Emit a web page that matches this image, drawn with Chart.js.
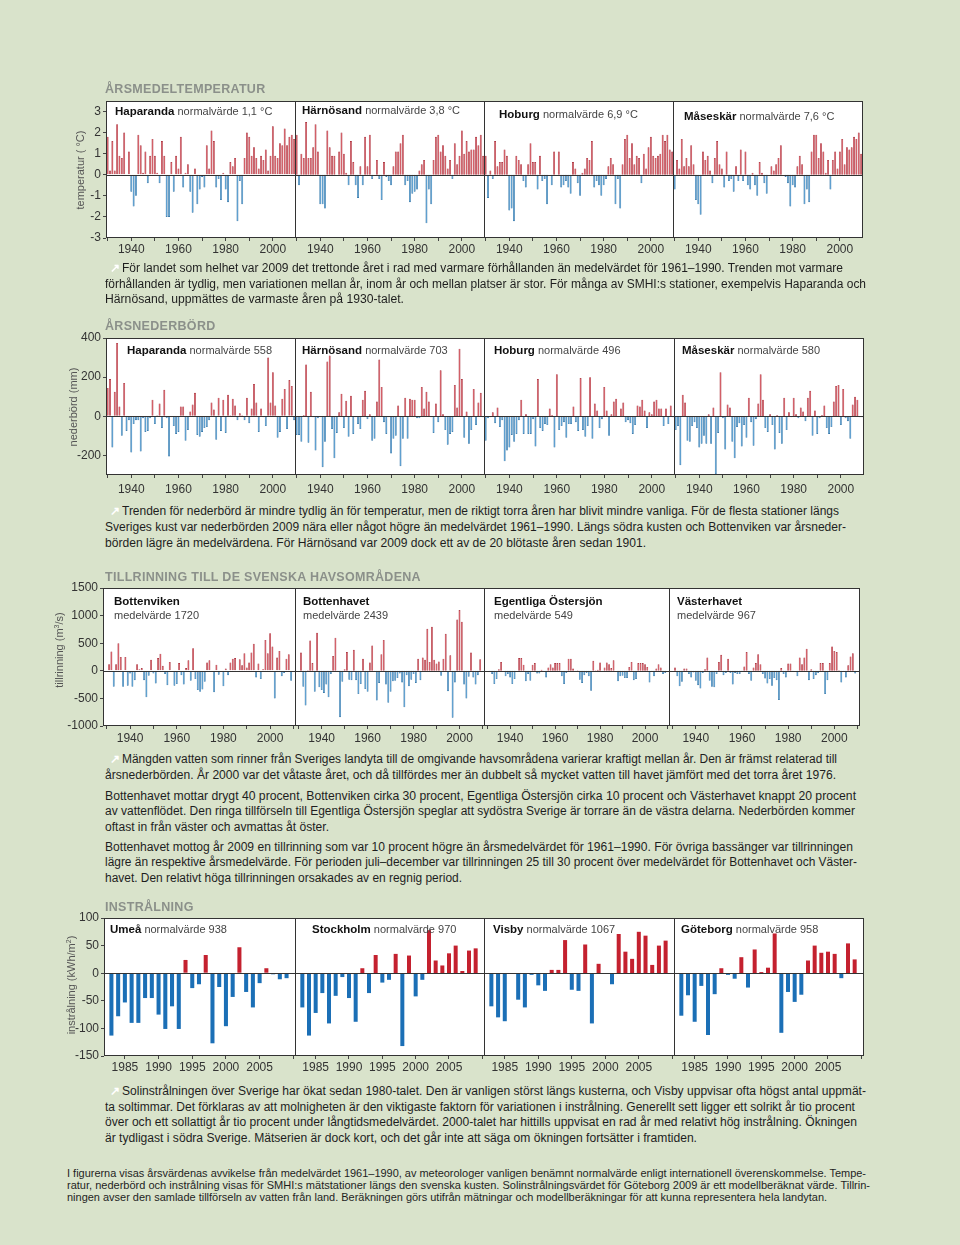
<!DOCTYPE html>
<html>
<head>
<meta charset="utf-8">
<script src="https://cdn.jsdelivr.net/npm/chart.js@4.4.1/dist/chart.umd.min.js"></script>
<style>
body { margin: 0; background: #d9e3cb; }
#page { position: relative; width: 960px; height: 1245px; overflow: hidden; background: #d9e3cb;
        font-family: "Liberation Sans", Arial, sans-serif; }
canvas { position: absolute; }
.t { position: absolute; white-space: nowrap; line-height: 14px; }
.title { font-weight: bold; color: #8b908a; font-size: 12.5px; letter-spacing: 0.3px; }
.lab { font-size: 11px; color: #444; }
.lab b { color: #111; font-size: 11.5px; }
.ytitle { font-size: 11px; color: #555; transform: translate(-50%, -50%) rotate(-90deg); }
.p { font-family: "Liberation Sans Narrow", "Liberation Sans", Arial, sans-serif; font-size: 12.5px; color: #1e1e1e; transform-origin: 0 50%; }
.foot { font-size: 10.5px; }
.arrow { color: #fff; font-weight: bold; font-size: 12px; }
</style>
</head>
<body>
<div id="page"></div>
<script>
// ---------- data ----------
const yearsClimate = Array.from({length: 80}, (_, i) => 1930 + i);   // 1930-2009
const yearsInflow  = Array.from({length: 79}, (_, i) => 1931 + i);   // 1931-2009
const yearsSun     = Array.from({length: 27}, (_, i) => 1983 + i);   // 1983-2009

const climateTickLabels = [1940, 1960, 1980, 2000];
const sunTickLabels = [1985, 1990, 1995, 2000, 2005];

// årsmedeltemperatur, avvikelse (°C)
const tempStations = ['Haparanda', 'Härnösand', 'Hoburg', 'Måseskär'];
const tempNormals = ['normalvärde 1,1 °C', 'normalvärde 3,8 °C', 'normalvärde 6,9 °C', 'normalvärde 7,6 °C'];
const tempHaparanda = [1.8,0.2,1.6,0.2,2.4,0.9,0.8,2.0,0.0,1.1, -0.8,-1.5,-1.0,1.9,1.4,0.1,1.1,-0.4,0.9,1.7,
  0.9,0.1,-0.4,1.6,0.9,-2.0,-2.0,0.6,-0.8,0.9, 0.3,1.8,-0.6,0.1,0.5,-0.8,-1.8,0.3,-1.4,-0.7,
  -0.1,-0.6,1.4,0.3,2.1,1.6,-0.6,-0.2,-1.2,0.1, -0.7,-1.3,0.6,0.4,0.8,-2.2,-0.3,-1.4,0.8,2.0,
  1.8,0.9,1.3,0.8,0.3,0.9,0.7,1.2,0.2,0.9, 2.3,0.9,0.8,1.5,1.4,2.2,1.4,1.8,1.9,1.7];
const tempHarnosand = [1.9,-0.5,1.0,0.8,2.5,0.8,0.8,1.3,2.4,1.1, -1.4,-1.4,-1.6,2.1,1.3,0.9,0.9,0.0,1.1,2.0,
  1.0,0.1,-0.5,1.6,0.6,-0.5,-1.1,0.4,-0.5,1.8, 0.4,1.9,-0.2,0.0,0.7,-0.2,-1.2,0.6,-0.1,-0.3,
  -0.5,0.4,1.1,1.1,1.5,1.9,-0.5,-0.3,-1.3,-0.9, -0.8,-0.7,0.2,0.5,0.7,-2.3,-0.7,-1.4,0.7,1.8,
  1.9,1.1,1.4,0.9,0.3,0.7,-0.2,1.5,0.5,0.9, 2.1,1.0,1.6,1.1,1.2,1.2,1.8,1.4,1.9,0.9];
const tempHoburg = [0.9,-1.1,0.2,-0.2,1.6,0.4,0.6,0.6,1.2,0.9, -1.7,-1.6,-2.2,0.9,0.7,0.5,-0.3,-0.6,0.5,1.5,
  0.6,0.6,-0.7,0.9,-0.3,-0.2,-1.4,0.0,-0.5,1.1, 0.0,1.1,-0.6,-0.5,-0.3,-0.6,-0.9,0.6,0.3,-0.4,
  -1.0,0.1,0.3,0.8,0.7,1.6,-0.6,-0.3,-0.5,-1.0, -0.5,-0.2,0.4,0.8,0.5,-1.4,-0.2,-1.6,0.5,1.7,
  1.9,0.8,1.5,0.5,0.9,0.8,-0.4,1.0,0.3,1.3, 1.8,0.9,0.8,0.9,1.0,1.9,1.6,1.9,1.2,1.1];
const tempMaseskar = [-0.7,0.7,0.3,1.7,0.4,0.8,0.4,1.4,0.5,-1.2, -1.4,-1.9,1.1,0.7,0.9,0.2,-0.4,0.8,1.6,0.5,
  0.3,-0.6,1.1,-0.3,-0.2,-0.8,0.4,-0.3,1.2,-0.3, 1.1,-0.5,-0.7,0.1,-0.5,-1.0,0.6,0.1,-0.4,-0.9,
  0.0,0.4,0.2,0.5,0.8,1.4,0.0,-0.1,-0.4,-1.5, -0.5,-0.6,0.4,0.9,0.5,-1.4,-0.7,-1.3,1.1,1.9,
  1.9,0.8,1.5,1.1,0.1,0.7,-0.7,0.7,1.1,0.3, 1.1,1.7,0.5,1.3,1.2,1.3,1.8,1.7,2.0,1.0];

// årsnederbörd, avvikelse (mm)
const precNormals = ['normalvärde 558', 'normalvärde 703', 'normalvärde 496', 'normalvärde 580'];
const precHaparanda = [145,190,-160,125,375,50,-100,170,-75,-20, -185,-40,-20,-20,-180,-10,-80,-75,-10,85,
  -40,5,65,-60,135,-10,-205,-5,-50,-90, -80,50,50,-125,-70,25,60,120,-95,-105,
  -80,-60,-55,-20,70,35,-120,95,-75,85, -85,110,5,90,55,-20,15,5,-20,95,
  -35,40,165,70,-80,40,-5,-50,300,70, 225,55,-110,-80,90,140,-65,185,155,-20];
const precHarnosand = [-95,-95,-130,5,265,-135,125,-5,-175,-10, -5,-260,-130,280,310,-65,-215,-85,20,115,
  -60,80,-105,105,-90,-5,-40,-65,85,130, -15,10,-125,-115,75,290,150,-30,-90,-5,
  -190,-115,-100,55,-255,-115,95,-115,90,85, 85,-10,-10,150,40,125,75,-5,-85,65,
  -30,235,10,-70,-145,-90,-80,160,45,345, 190,-110,25,-140,-70,140,-45,70,120,-5];
const precHoburg = [-125,-10,-5,20,-35,45,-55,-20,-230,-175, -160,-95,-130,-90,-20,85,-90,10,-90,-90,
  -15,-155,190,-60,-75,-40,-45,40,5,-160, 215,-70,-50,-30,-110,-40,-40,50,-30,-75,
  195,-70,-105,-50,200,-115,65,30,-60,-15, 150,30,-100,10,75,90,0,40,70,-30,
  -20,-35,-90,-45,55,50,85,30,-60,20, 10,75,85,40,40,-50,40,-40,55,-5];
const precMaseskar = [-70,-50,-250,110,70,-125,-130,-50,-30,-60, -160,-140,-100,-140,10,-140,45,-295,-85,225,
  -10,-170,60,45,-130,-215,-55,-35,-155,-45, -110,95,-30,-150,-15,65,215,85,-60,-80,
  10,-45,-170,5,-85,-140,95,-70,20,-5, 95,10,-10,45,25,-25,95,130,-100,30,
  -90,-10,5,55,-60,-90,-55,75,155,160, -45,140,-10,-25,-115,60,100,85,-5,-5];

// tillrinning, avvikelse (m3/s)
const basins = ['Bottenviken', 'Bottenhavet', 'Egentliga Östersjön', 'Västerhavet'];
const basinMeans = ['medelvärde 1720', 'medelvärde 2439', 'medelvärde 549', 'medelvärde 967'];
const flowBottenviken = [120,350,-290,120,500,250,-290,250,-270,-50, -290,-170,120,30,50,-170,-480,-90,200,-50,
  -230,230,310,90,-60,-260,160,-10,-270,-240, 140,-80,-250,50,190,-180,410,-150,-350,-380,
  -340,-200,150,190,-10,-390,110,-70,-10,-280, 40,-80,150,220,230,-20,210,100,320,60,
  150,330,490,-120,130,-150,30,560,320,680, 440,-500,240,360,-100,-40,220,300,-180];
const flowBottenhavet = [330,-290,-630,10,550,140,-380,690,-300,-350, -400,-250,-480,-60,270,600,-20,-840,-200,30,
  340,-160,-170,380,-170,-420,-240,220,-330,-380, 150,460,-20,-540,-220,300,560,-250,-580,-380,
  -190,-180,-130,-50,-210,-660,-80,-280,-160,-60, -220,220,-170,240,200,760,160,800,200,130,
  170,-90,220,670,-370,280,-850,-210,930,1100, 890,-250,-500,-110,330,-120,-250,-80,210];
const flowEgentliga = [-20,-60,-240,-150,30,160,0,-100,-60,-120, -240,-150,0,230,230,110,-190,-60,-180,110,
  140,-50,-50,20,-20,-120,60,120,60,140, 140,140,-100,-240,-40,220,220,40,-10,10,
  -160,-220,-80,-40,-100,-360,180,10,20,150, -10,60,150,120,50,190,0,-190,-100,-90,
  -130,-130,70,160,-170,-150,140,140,140,120, 70,-210,-20,-100,40,120,60,-60,-40];
const flowVasterhavet = [60,-100,-280,-200,40,40,-60,-120,-30,-180, -260,-320,-40,30,240,-180,-290,-300,-60,160,
  290,-80,-40,220,-40,-250,-40,-60,-60,-10, 80,340,-60,-180,60,140,300,120,-60,-140,
  -230,-150,-270,-130,-170,-530,50,-60,-120,130, 130,-20,0,-100,240,120,240,400,-170,30,
  -150,-80,-40,140,140,-420,-170,140,440,360, 340,10,-210,-10,-120,100,260,320,-50];

// instrålning, avvikelse (kWh/m2)
const sunStations = ['Umeå', 'Stockholm', 'Visby', 'Göteborg'];
const sunNormals = ['normalvärde 938', 'normalvärde 970', 'normalvärde 1067', 'normalvärde 958'];
const sunUmea = [-113,-78,-53,-90,-90,-45,-45,-75,-101,-60, -101,24,-27,-20,33,-127,-25,-96,-43,47, -34,-62,-18,9,-2,-11,-9];
const sunStockholm = [-62,-113,-72,-36,-91,-41,-7,-45,-88,9, -36,33,-17,-12,35,-132,32,-42,-12,78, 23,14,36,50,4,41,45];
const sunVisby = [-60,-80,-87,0,-48,-62,-3,-22,-32,6, 6,60,-30,-32,52,-91,17,0,-20,71, 39,26,75,68,15,50,59];
const sunGoteborg = [-77,-40,-88,-23,-112,-38,9,-3,-10,29, -26,43,2,10,72,-108,-34,-52,-39,23, 50,37,39,35,-9,54,25];

// ---------- layout ----------
const page = document.getElementById('page');
const FONT = '"Liberation Sans", Arial, sans-serif';
const TOPPAD = 12, XH = 26, YW = 50, SIDE = 8;

const rows = [
  { top: 101, bottom: 238, edges: [106, 295, 484, 673, 862], years: yearsClimate,
    series: [tempHaparanda, tempHarnosand, tempHoburg, tempMaseskar],
    xMin: 1929.3, xMax: 2009.8, xStep: 10, xLabels: climateTickLabels,
    yMin: -3, yMax: 3.5, yStep: 1, xPad: 1, red: '#cc3a45', blue: '#3a8cc8',
    redEdge: '#a01f2c', blueEdge: '#20679d', bar: 0.82, border: 0.6 },
  { top: 338, bottom: 475, edges: [106, 295, 484, 674, 863], years: yearsClimate,
    series: [precHaparanda, precHarnosand, precHoburg, precMaseskar],
    xMin: 1929.3, xMax: 2009.8, xStep: 10, xLabels: climateTickLabels,
    yMin: -300, yMax: 400, yStep: 200, xPad: 4, red: '#cc3a45', blue: '#3a8cc8',
    redEdge: '#a01f2c', blueEdge: '#20679d', bar: 0.82, border: 0.6 },
  { top: 588, bottom: 726, edges: [103, 295, 484, 669, 859], years: yearsInflow,
    series: [flowBottenviken, flowBottenhavet, flowEgentliga, flowVasterhavet],
    xMin: 1928.4, xMax: 2011.1, xStep: 10, xLabels: climateTickLabels,
    yMin: -1000, yMax: 1500, yStep: 500, xPad: 2, red: '#cc3a45', blue: '#3a8cc8',
    redEdge: '#a01f2c', blueEdge: '#20679d', bar: 0.82, border: 0.6 },
  { top: 918, bottom: 1056, edges: [104, 295, 484, 674, 863], years: yearsSun,
    series: [sunUmea, sunStockholm, sunVisby, sunGoteborg],
    xMin: 1981.9, xMax: 2010.4, xStep: 5, xLabels: sunTickLabels,
    yMin: -150, yMax: 100, yStep: 50, xPad: 1, red: '#c4212f', blue: '#1b6fb6',
    redEdge: '#c4212f', blueEdge: '#1b6fb6', bar: 0.6, border: 0 }
];

const boxPlugin = {
  id: 'box',
  beforeDraw(chart) {
    const a = chart.chartArea, g = chart.ctx;
    g.save(); g.fillStyle = '#fff'; g.fillRect(a.left, a.top, a.right - a.left, a.bottom - a.top); g.restore();
  },
  afterDatasetsDraw(chart) {
    const a = chart.chartArea, g = chart.ctx;
    const y0 = Math.round(chart.scales.y.getPixelForValue(0)) + 0.5;
    g.save();
    g.strokeStyle = '#333'; g.lineWidth = 1;
    g.beginPath(); g.moveTo(a.left, y0); g.lineTo(a.right, y0); g.stroke();
    g.strokeRect(Math.round(a.left) + 0.5, Math.round(a.top) + 0.5, Math.round(a.right - a.left) - 1, Math.round(a.bottom - a.top) - 1);
    g.restore();
  }
};

function makePanel(row, i) {
  const first = i === 0;
  const padL = first ? YW : SIDE;
  const w = row.edges[i + 1] - row.edges[i] + 1;
  const h = row.bottom - row.top;
  const cw = w + padL + SIDE, ch = h + TOPPAD + XH;
  const c = document.createElement('canvas');
  c.width = cw; c.height = ch;
  c.style.left = (row.edges[i] - padL) + 'px';
  c.style.top = (row.top - TOPPAD) + 'px';
  c.style.width = cw + 'px'; c.style.height = ch + 'px';
  page.appendChild(c);
  const vals = row.series[i];
  new Chart(c, {
    type: 'bar',
    data: {
      datasets: [{
        data: row.years.map((yr, k) => ({ x: yr, y: vals[k] })),
        backgroundColor: ctx => ctx.parsed.y >= 0 ? row.red : row.blue,
        borderColor: ctx => ctx.parsed.y >= 0 ? row.redEdge : row.blueEdge,
        borderWidth: row.border,
        barPercentage: row.bar,
        categoryPercentage: 1
      }]
    },
    options: {
      responsive: false,
      animation: false,
      layout: { padding: { top: TOPPAD, left: first ? 0 : SIDE, right: SIDE, bottom: 0 } },
      plugins: { legend: { display: false }, tooltip: { enabled: false } },
      scales: {
        x: {
          type: 'linear', min: row.xMin, max: row.xMax, offset: false,
          grid: { offset: false, drawOnChartArea: false, tickLength: 3, color: '#444' },
          border: { display: false },
          ticks: {
            stepSize: row.xStep, includeBounds: false, autoSkip: false, maxRotation: 0,
            padding: row.xPad, color: '#333', font: { family: FONT, size: 12 },
            callback: v => row.xLabels.includes(v) ? String(v) : ''
          },
          afterFit: s => { s.height = XH; }
        },
        y: {
          display: first, min: row.yMin, max: row.yMax,
          grid: { drawOnChartArea: false, tickLength: 3, color: '#444' },
          border: { display: false },
          ticks: { stepSize: row.yStep, includeBounds: false, padding: 2, color: '#333',
                   font: { family: FONT, size: 12 }, callback: v => String(v) },
          afterFit: s => { s.width = first ? YW : 0; }
        }
      }
    },
    plugins: [boxPlugin]
  });
}

rows.forEach(row => { for (let i = 0; i < 4; i++) makePanel(row, i); });

// ---------- text ----------
function addText(html, cls, x, y, extra) {
  const d = document.createElement('div');
  d.className = 't ' + cls;
  d.innerHTML = html;
  d.style.left = x + 'px';
  d.style.top = (y - 7) + 'px';
  if (extra) Object.assign(d.style, extra);
  page.appendChild(d);
  return d;
}

addText('ÅRSMEDELTEMPERATUR', 'title', 105, 89);
addText('ÅRSNEDERBÖRD', 'title', 105, 326);
addText('TILLRINNING TILL DE SVENSKA HAVSOMRÅDENA', 'title', 105, 577);
addText('INSTRÅLNING', 'title', 105, 907);

function yTitle(txt, cx, cy) {
  const d = addText(txt, 'ytitle', cx, cy);
  d.style.top = cy + 'px';
}
yTitle('temperatur ( °C)', 80, 170);
yTitle('nederbörd (mm)', 73, 407);
yTitle('tillrinning (m<sup style="font-size:7px">3</sup>/s)', 58, 650);
yTitle('instrålning (kWh/m<sup style="font-size:7px">2</sup>)', 70, 985);

const tempLabPos = [[115, 111], [302, 110], [499, 114], [684, 116]];
tempStations.forEach((s, i) => addText('<b>' + s + '</b> ' + tempNormals[i], 'lab', tempLabPos[i][0], tempLabPos[i][1]));
const precLabPos = [[127, 350], [302, 350], [494, 350], [682, 350]];
tempStations.forEach((s, i) => addText('<b>' + s + '</b> ' + precNormals[i], 'lab', precLabPos[i][0], precLabPos[i][1]));
const flowLabX = [114, 303, 494, 677];
basins.forEach((s, i) => {
  addText('<b>' + s + '</b>', 'lab', flowLabX[i], 601);
  addText(basinMeans[i], 'lab', flowLabX[i], 615);
});
const sunLabX = [110, 312, 493, 681];
sunStations.forEach((s, i) => addText('<b>' + s + '</b> ' + sunNormals[i], 'lab', sunLabX[i], 929));

// paragraphs: [left, centre y, right edge, text]
const paragraphs = [
  { arrow: [110, 268], lines: [
    [122, 268, 843, 'För landet som helhet var 2009 det trettonde året i rad med varmare förhållanden än medelvärdet för 1961–1990. Trenden mot varmare'],
    [105, 284, 866, 'förhållanden är tydlig, men variationen mellan år, inom år och mellan platser är stor. För många av SMHI:s stationer, exempelvis Haparanda och'],
    [105, 299, 404, 'Härnösand, uppmättes de varmaste åren på 1930-talet.'] ] },
  { arrow: [110, 511], lines: [
    [122, 511, 839, 'Trenden för nederbörd är mindre tydlig än för temperatur, men de riktigt torra åren har blivit mindre vanliga. För de flesta stationer längs'],
    [105, 527, 846, 'Sveriges kust var nederbörden 2009 nära eller något högre än medelvärdet 1961–1990. Längs södra kusten och Bottenviken var årsneder-'],
    [105, 543, 646, 'börden lägre än medelvärdena. För Härnösand var 2009 dock ett av de 20 blötaste åren sedan 1901.'] ] },
  { arrow: [110, 759], lines: [
    [122, 759, 837, 'Mängden vatten som rinner från Sveriges landyta till de omgivande havsområdena varierar kraftigt mellan år. Den är främst relaterad till'],
    [105, 775, 836, 'årsnederbörden. År 2000 var det våtaste året, och då tillfördes mer än dubbelt så mycket vatten till havet jämfört med det torra året 1976.'],
    [105, 796, 856, 'Bottenhavet mottar drygt 40 procent, Bottenviken cirka 30 procent, Egentliga Östersjön cirka 10 procent och Västerhavet knappt 20 procent'],
    [105, 811, 855, 'av vattenflödet. Den ringa tillförseln till Egentliga Östersjön speglar att sydöstra Sverige är torrare än de västra delarna. Nederbörden kommer'],
    [105, 827, 329, 'oftast in från väster och avmattas åt öster.'],
    [105, 847, 853, 'Bottenhavet mottog år 2009 en tillrinning som var 10 procent högre än årsmedelvärdet för 1961–1990. För övriga bassänger var tillrinningen'],
    [105, 862, 857, 'lägre än respektive årsmedelvärde. För perioden juli–december var tillrinningen 25 till 30 procent över medelvärdet för Bottenhavet och Väster-'],
    [105, 878, 462, 'havet. Den relativt höga tillrinningen orsakades av en regnig period.'] ] },
  { arrow: [110, 1091], lines: [
    [122, 1091, 866, 'Solinstrålningen över Sverige har ökat sedan 1980-talet. Den är vanligen störst längs kusterna, och Visby uppvisar ofta högst antal uppmät-'],
    [105, 1107, 855, 'ta soltimmar. Det förklaras av att molnigheten är den viktigaste faktorn för variationen i instrålning. Generellt sett ligger ett solrikt år tio procent'],
    [105, 1122, 857, 'över och ett sollattigt år tio procent under långtidsmedelvärdet. 2000-talet har hittills uppvisat en rad år med relativt hög instrålning. Ökningen'],
    [105, 1138, 697, 'är tydligast i södra Sverige. Mätserien är dock kort, och det går inte att säga om ökningen fortsätter i framtiden.'] ] },
  { arrow: null, foot: true, lines: [
    [67, 1173, 866, 'I figurerna visas årsvärdenas avvikelse från medelvärdet 1961–1990, av meteorologer vanligen benämnt normalvärde enligt internationell överenskommelse. Tempe-'],
    [67, 1185, 870, 'ratur, nederbörd och instrålning visas för SMHI:s mätstationer längs den svenska kusten. Solinstrålningsvärdet för Göteborg 2009 är ett modellberäknat värde. Tillrin-'],
    [67, 1197, 827, 'ningen avser den samlade tillförseln av vatten från land. Beräkningen görs utifrån mätningar och modellberäkningar för att kunna representera hela landytan.'] ] }
];

paragraphs.forEach(p => {
  if (p.arrow) addText('↗', 'arrow', p.arrow[0], p.arrow[1]);
  p.lines.forEach(([x, y, right, txt]) => {
    const d = addText(txt, 'p' + (p.foot ? ' foot' : ''), x, y);
    const w = d.getBoundingClientRect().width;
    if (w > 0) d.style.transform = 'scaleX(' + ((right - x) / w).toFixed(4) + ')';
  });
});
</script>
</body>
</html>
